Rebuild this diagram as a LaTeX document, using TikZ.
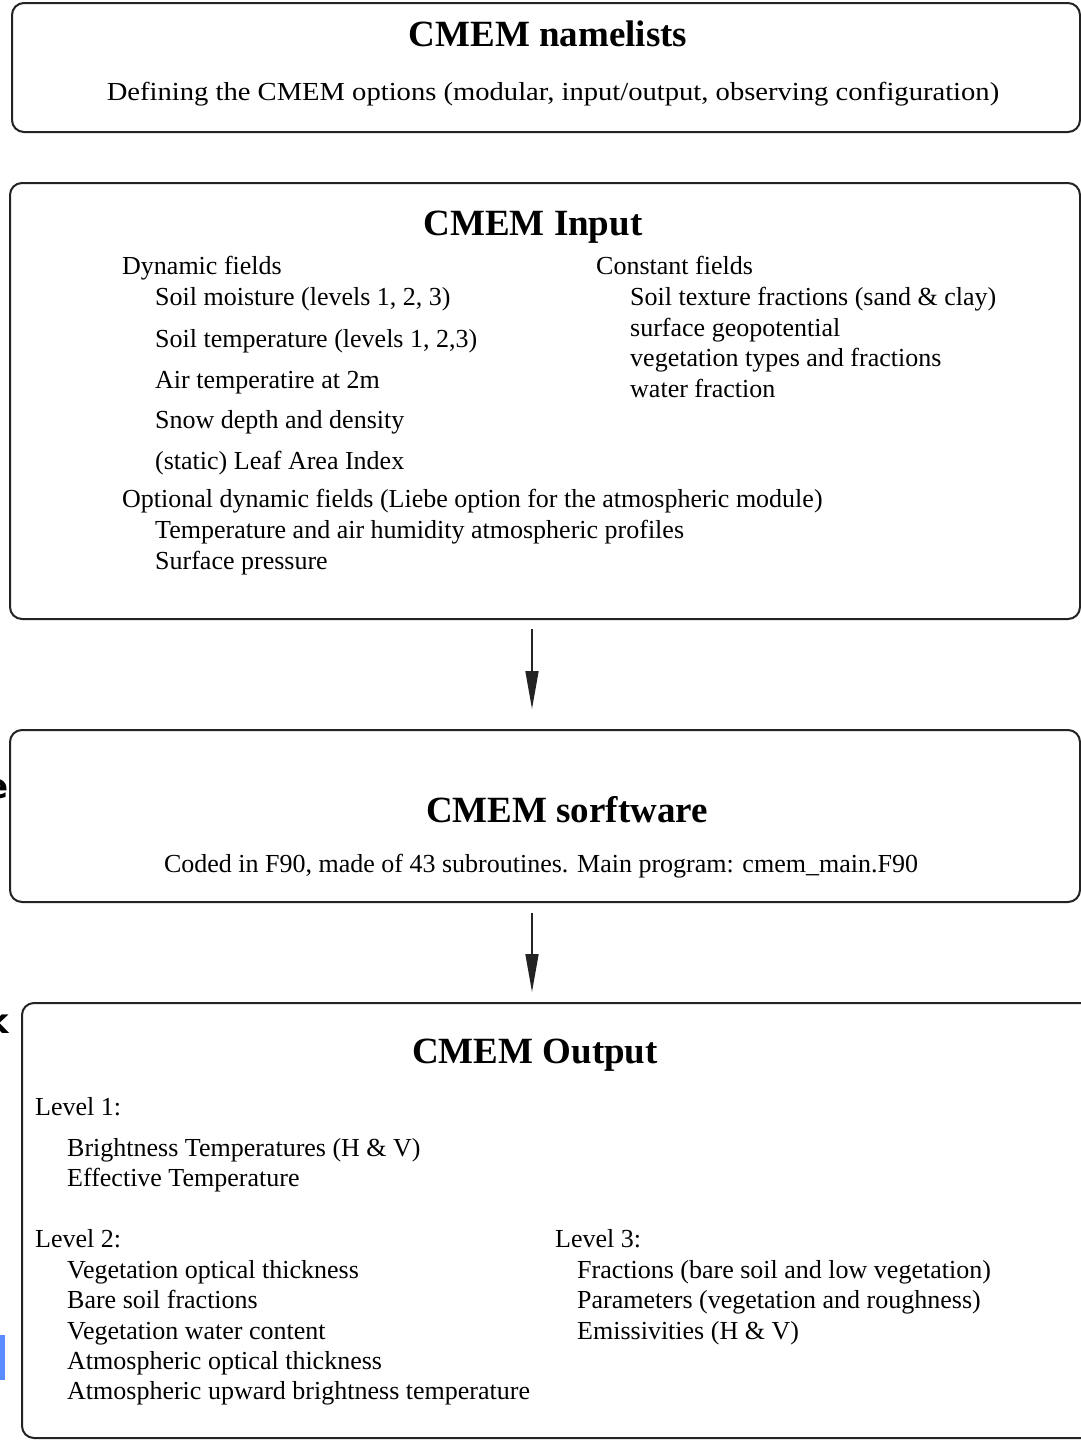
\documentclass[tikz,border=0pt]{standalone}
\usepackage{fontspec}
\setmainfont{Liberation Serif}
\newfontfamily\artsans{DejaVu Sans}
\usetikzlibrary{arrows.meta}
\definecolor{boxline}{RGB}{35,35,35}
\definecolor{artblue}{RGB}{90,140,255}
\tikzset{
  x=1pt, y=-1pt,
  box/.style={draw=boxline, line width=2pt, rounded corners=12pt, inner sep=0pt},
  ttl/.style={font=\fontsize{37}{40}\selectfont\bfseries, inner sep=0pt, anchor=mid, yshift=-9pt},
  sub/.style={font=\fontsize{26}{30}\selectfont, inner sep=0pt, anchor=mid, yshift=-6pt},
  itm/.style={font=\fontsize{26}{30}\selectfont, inner sep=0pt, anchor=mid west, yshift=-6pt},
  arr/.style={draw=boxline, line width=1.6pt, -{Triangle[length=38pt,width=13pt]}},
}
\begin{document}
\begin{tikzpicture}
\useasboundingbox (0,0) rectangle (1081,1440);
\fill[white] (0,0) rectangle (1081,1440);

% boxes
\node[box, minimum width=1068pt, minimum height=129pt] (nl) at (546,67.5) {};
\node[box, minimum width=1070pt, minimum height=436pt] (inp) at (545,401) {};
\node[box, minimum width=1070pt, minimum height=172pt] (sw) at (545,816) {};
\node[box, minimum width=1073pt, minimum height=435pt] (out) at (558.5,1220.5) {};

% namelists
\node[ttl] (nlt) at (548,35) {CMEM namelists};
\node[sub] (nls) at (553,92) {\scalebox{1.1}[1]{Defining the CMEM options (modular, input/output, observing configuration)}};

% input
\node[ttl] (inpt) at (533,224) {CMEM Input};
\node[itm] (dyn) at (122,266) {Dynamic fields};
\node[itm] (d1) at (155,297) {Soil moisture (levels 1, 2, 3)};
\node[itm] (d2) at (155,339) {Soil temperature (levels 1, 2,3)};
\node[itm] (d3) at (155,380) {Air temperatire at 2m};
\node[itm] (d4) at (155,420) {Snow depth and density};
\node[itm] (d5) at (155,461) {(static) Leaf Area Index};
\node[itm] (cst) at (596,266) {Constant fields};
\node[itm] (c1) at (630,297) {Soil texture fractions (sand \& clay)};
\node[itm] (c2) at (630,328) {surface geopotential};
\node[itm] (c3) at (630,358) {vegetation types and fractions};
\node[itm] (c4) at (630,389) {water fraction};
\node[itm] (opt) at (122,499) {Optional dynamic fields (Liebe option for the atmospheric module)};
\node[itm] (o1) at (155,530) {Temperature and air humidity atmospheric profiles};
\node[itm] (o2) at (155,561) {Surface pressure};

% software
\node[ttl] (swt) at (567,811) {CMEM sorftware};
\node[sub] (sws) at (541,864) {Coded in F90, made of 43 subroutines. Main program: cmem\_main.F90};

% output
\node[ttl] (outt) at (535,1052) {CMEM Output};
\node[itm] (l1) at (35,1107) {Level 1:};
\node[itm] (l1a) at (67,1148) {Brightness Temperatures (H \& V)};
\node[itm] (l1b) at (67,1178) {Effective Temperature};
\node[itm] (l2) at (35,1239) {Level 2:};
\node[itm] (l2a) at (67,1270) {Vegetation optical thickness};
\node[itm] (l2b) at (67,1300) {Bare soil fractions};
\node[itm] (l2c) at (67,1331) {Vegetation water content};
\node[itm] (l2d) at (67,1361) {Atmospheric optical thickness};
\node[itm] (l2e) at (67,1391) {Atmospheric upward brightness temperature};
\node[itm] (l3) at (555,1239) {Level 3:};
\node[itm] (l3a) at (577,1270) {Fractions (bare soil and low vegetation)};
\node[itm] (l3b) at (577,1300) {Parameters (vegetation and roughness)};
\node[itm] (l3c) at (577,1331) {Emissivities (H \& V)};

% arrows
\draw[arr, shorten <=9pt, shorten >=20pt] ([xshift=-13pt]inp.south) -- ([xshift=-13pt]sw.north);
\draw[arr, shorten <=10pt, shorten >=10pt] ([xshift=-13pt]sw.south) -- ([xshift=-26.5pt]out.north);

% edge fragments (cut off at the left edge, as in the reference)
\node[font=\artsans\fontsize{34}{34}\selectfont\bfseries, inner sep=0pt, anchor=mid east] (fe) at (9,796) {e};
\node[font=\artsans\fontsize{34}{34}\selectfont\bfseries, inner sep=0pt, anchor=mid east] (fk) at (9,1031) {k};
\fill[artblue] (0,1335) rectangle (5,1380);
\end{tikzpicture}
\end{document}
